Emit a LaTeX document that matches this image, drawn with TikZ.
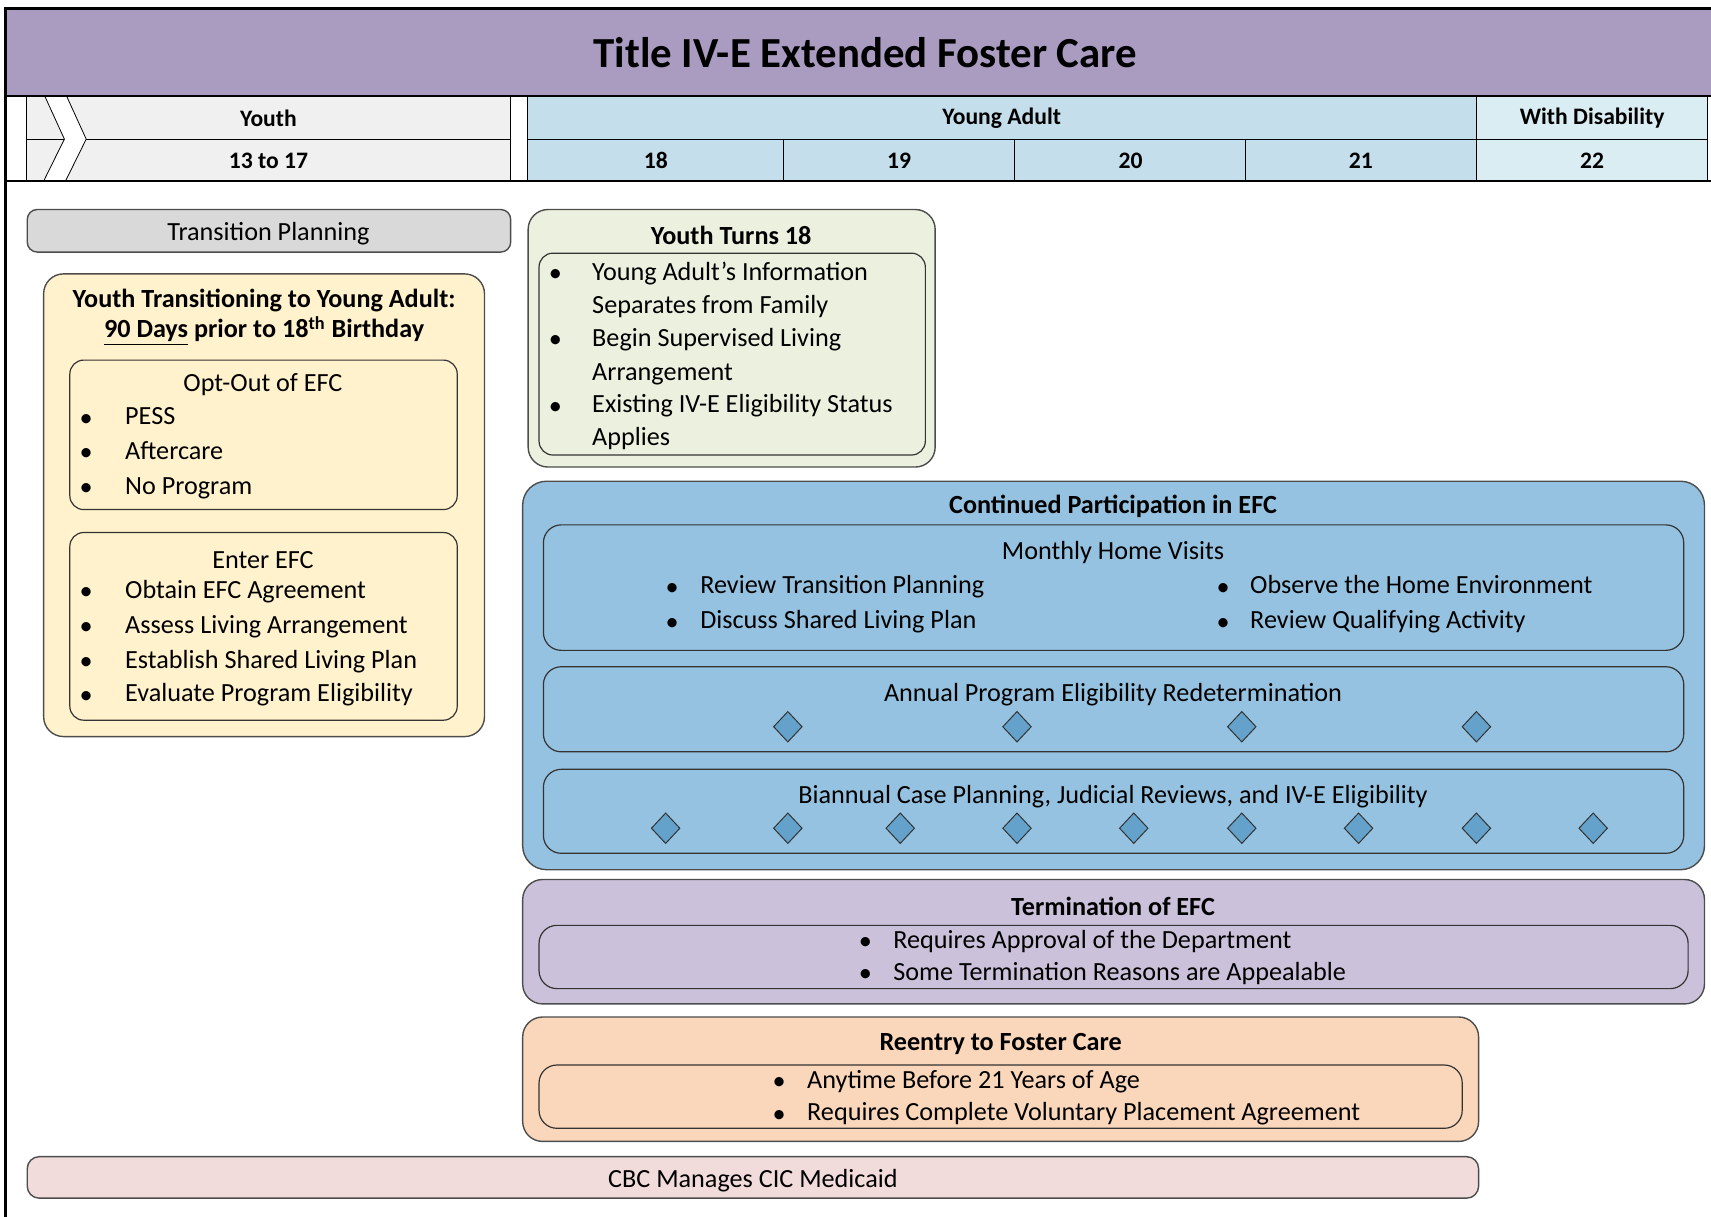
\documentclass[tikz,border=0pt]{standalone}
\usepackage{fontspec}
\setmainfont{Carlito}
\usetikzlibrary{shapes.geometric}

\definecolor{titlebg}{RGB}{170,155,193}
\definecolor{youthhd}{RGB}{240,240,240}
\definecolor{adulthd}{RGB}{197,222,236}
\definecolor{disabhd}{RGB}{218,237,243}
\definecolor{planbg}{RGB}{217,217,217}
\definecolor{transbg}{RGB}{255,242,204}
\definecolor{turnsbg}{RGB}{235,241,222}
\definecolor{contbg}{RGB}{149,194,224}
\definecolor{dmdbg}{RGB}{100,162,203}
\definecolor{termbg}{RGB}{204,193,218}
\definecolor{reentbg}{RGB}{250,215,186}
\definecolor{medbg}{RGB}{242,220,219}

\begin{document}
\begin{tikzpicture}[x=0.55pt,y=0.55pt,yscale=-1,
  txt/.style={inner sep=0.75pt, yshift=-1.6pt, font=\fontsize{13.2}{16}\selectfont},
  btxt/.style={inner sep=0.75pt, yshift=-0.8pt, font=\bfseries\fontsize{13.2}{16}\selectfont},
  hd/.style={inner sep=0.75pt, yshift=-0.6pt, font=\bfseries\fontsize{11.9}{14}\selectfont},
  outbox/.style={draw=black!70, line width=0.7pt, rounded corners=10pt},
  inbox/.style={draw=black!80, line width=0.6pt, rounded corners=7pt},
  dmd/.style={diamond, draw=black!80, fill=dmdbg, line width=0.5pt, inner sep=0pt, minimum width=14.5pt, minimum height=15.5pt},
  heavy/.style={line width=1.3pt}]

\useasboundingbox (0,0) rectangle (1568,1115);

% title band
\fill[titlebg] (5,8) rectangle (1568,88);
\node[inner sep=0.75pt, font=\bfseries\fontsize{21.6}{26}\selectfont] (title) at (793,48) {Title IV-E Extended Foster Care};

% header: youth
\fill[youthhd] (24,88) rectangle (468,166);
\draw[line width=0.4pt] (24,127.5) -- (468,127.5);
\draw[line width=0.4pt] (24,88) -- (24,166);
\draw[line width=0.4pt] (468,88) -- (468,166);
\fill[white] (41,88) -- (61,88) -- (79,127.5) -- (60,166) -- (40,166) -- (59,127.5) -- cycle;
\draw[line width=0.4pt] (41,88) -- (59,127.5) -- (40,166);
\draw[line width=0.4pt] (61,88) -- (79,127.5) -- (60,166);
\node[hd] (youth) at (246,107) {Youth};
\node[hd] (age1317) at (246,146) {13 to 17};

% header: young adult
\draw[line width=0.4pt, fill=adulthd] (483,88) rectangle (1353,166);
\draw[line width=0.4pt, fill=disabhd] (1353,88) rectangle (1565,166);
\draw[line width=0.4pt] (483,127.5) -- (1565,127.5);
\draw[line width=0.4pt] (718,127.5) -- (718,166);
\draw[line width=0.4pt] (930,127.5) -- (930,166);
\draw[line width=0.4pt] (1141,127.5) -- (1141,166);
\node[hd] (yadult) at (918,107) {Young Adult};
\node[hd] (disab) at (1459,107) {With Disability};
\node[hd] (age18) at (601,146) {18};
\node[hd] (age19) at (824,146) {19};
\node[hd] (age20) at (1036,146) {20};
\node[hd] (age21) at (1247,146) {21};
\node[hd] (age22) at (1459,146) {22};

% frame
\draw[heavy] (5,88) -- (1568,88);
\draw[heavy] (5,166) -- (1568,166);
\draw[heavy] (1568,8) -- (5,8) -- (5,1115);

% transition planning
\draw[outbox, rounded corners=5pt, fill=planbg] (25,192) rectangle (468,231);
\node[txt] (plan) at (246,211) {Transition Planning};

\draw[outbox, fill=transbg] (40,251) rectangle (444,675);
\node[btxt] (trans1) at (242,274) {Youth Transitioning to Young Adult:};
\node[btxt] (trans2) at (242,302) {\underline{90 Days} prior to 18\textsuperscript{th} Birthday};

\draw[inbox] (64,330) rectangle (419,467);
\node[txt] (optout) at (241,350) {Opt-Out of EFC};
\node[txt] (ob1) at (79,382) {\textbullet};
\node[txt, anchor=mid west] (o1) at (113,382) {PESS};
\node[txt] (ob2) at (79,414) {\textbullet};
\node[txt, anchor=mid west] (o2) at (113,414) {Aftercare};
\node[txt] (ob3) at (79,446) {\textbullet};
\node[txt, anchor=mid west] (o3) at (113,446) {No Program};

\draw[inbox] (64,488) rectangle (419,660);
\node[txt] (enter) at (241,510) {Enter EFC};
\node[txt] (eb1) at (79,541) {\textbullet};
\node[txt, anchor=mid west] (e1) at (113,541) {Obtain EFC Agreement};
\node[txt] (eb2) at (79,573) {\textbullet};
\node[txt, anchor=mid west] (e2) at (113,573) {Assess Living Arrangement};
\node[txt] (eb3) at (79,605) {\textbullet};
\node[txt, anchor=mid west] (e3) at (113,605) {Establish Shared Living Plan};
\node[txt] (eb4) at (79,636) {\textbullet};
\node[txt, anchor=mid west] (e4) at (113,636) {Evaluate Program Eligibility};

% youth turns 18
\draw[outbox, fill=turnsbg] (484,192) rectangle (857,428);
\node[btxt] (turns) at (670,214) {Youth Turns 18};
\draw[inbox] (494,232) rectangle (848,417);
\node[txt] (tb1) at (509,250) {\textbullet};
\node[txt, anchor=mid west] (t1a) at (541,250) {Young Adult’s Information};
\node[txt, anchor=mid west] (t1b) at (541,280) {Separates from Family};
\node[txt] (tb2) at (509,310) {\textbullet};
\node[txt, anchor=mid west] (t2a) at (541,310) {Begin Supervised Living};
\node[txt, anchor=mid west] (t2b) at (541,341) {Arrangement};
\node[txt] (tb3) at (509,371) {\textbullet};
\node[txt, anchor=mid west] (t3a) at (541,371) {Existing IV-E Eligibility Status};
\node[txt, anchor=mid west] (t3b) at (541,401) {Applies};

% continued participation
\draw[outbox, rounded corners=12pt, fill=contbg] (479,441) rectangle (1562,797);
\node[btxt] (cont) at (1020,463) {Continued Participation in EFC};

\draw[inbox, rounded corners=9pt] (498,481) rectangle (1543,596);
\node[txt] (visits) at (1020,503) {Monthly Home Visits};
\node[txt] (vb1) at (616,537) {\textbullet};
\node[txt, anchor=mid west] (v1) at (640,537) {Review Transition Planning};
\node[txt] (vb2) at (616,569) {\textbullet};
\node[txt, anchor=mid west] (v2) at (640,569) {Discuss Shared Living Plan};
\node[txt] (vb3) at (1121,537) {\textbullet};
\node[txt, anchor=mid west] (v3) at (1144,537) {Observe the Home Environment};
\node[txt] (vb4) at (1121,569) {\textbullet};
\node[txt, anchor=mid west] (v4) at (1144,569) {Review Qualifying Activity};

\draw[inbox, rounded corners=9pt] (498,611) rectangle (1543,689);
\node[txt] (annual) at (1020,634) {Annual Program Eligibility Redetermination};
\node[dmd] (an1) at (722,666) {};
\node[dmd] (an2) at (932,666) {};
\node[dmd] (an3) at (1138,666) {};
\node[dmd] (an4) at (1353,666) {};

\draw[inbox, rounded corners=9pt] (498,705) rectangle (1543,782);
\node[txt] (biann) at (1020,727) {Biannual Case Planning, Judicial Reviews, and IV-E Eligibility};
\node[dmd] (bi1) at (610,759) {};
\node[dmd] (bi2) at (722,759) {};
\node[dmd] (bi3) at (825,759) {};
\node[dmd] (bi4) at (932,759) {};
\node[dmd] (bi5) at (1039,759) {};
\node[dmd] (bi6) at (1138,759) {};
\node[dmd] (bi7) at (1245,759) {};
\node[dmd] (bi8) at (1353,759) {};
\node[dmd] (bi9) at (1460,759) {};

% termination
\draw[outbox, fill=termbg] (479,806) rectangle (1562,920);
\node[btxt] (term) at (1020,829) {Termination of EFC};
\draw[inbox, rounded corners=9pt] (494,848) rectangle (1547,906);
\node[txt] (mb1) at (793,862) {\textbullet};
\node[txt, anchor=mid west] (m1) at (817,862) {Requires Approval of the Department};
\node[txt] (mb2) at (793,891) {\textbullet};
\node[txt, anchor=mid west] (m2) at (817,891) {Some Termination Reasons are Appealable};

% reentry
\draw[outbox, fill=reentbg] (479,932) rectangle (1355,1046);
\node[btxt] (reent) at (917,955) {Reentry to Foster Care};
\draw[inbox, rounded corners=9pt] (494,976) rectangle (1340,1034);
\node[txt] (rb1) at (714,990) {\textbullet};
\node[txt, anchor=mid west] (r1) at (738,990) {Anytime Before 21 Years of Age};
\node[txt] (rb2) at (714,1020) {\textbullet};
\node[txt, anchor=mid west] (r2) at (738,1020) {Requires Complete Voluntary Placement Agreement};

% medicaid
\draw[outbox, rounded corners=6pt, fill=medbg] (25,1060) rectangle (1355,1098);
\node[txt] (medic) at (690,1079) {CBC Manages CIC Medicaid};

\end{tikzpicture}
\end{document}
